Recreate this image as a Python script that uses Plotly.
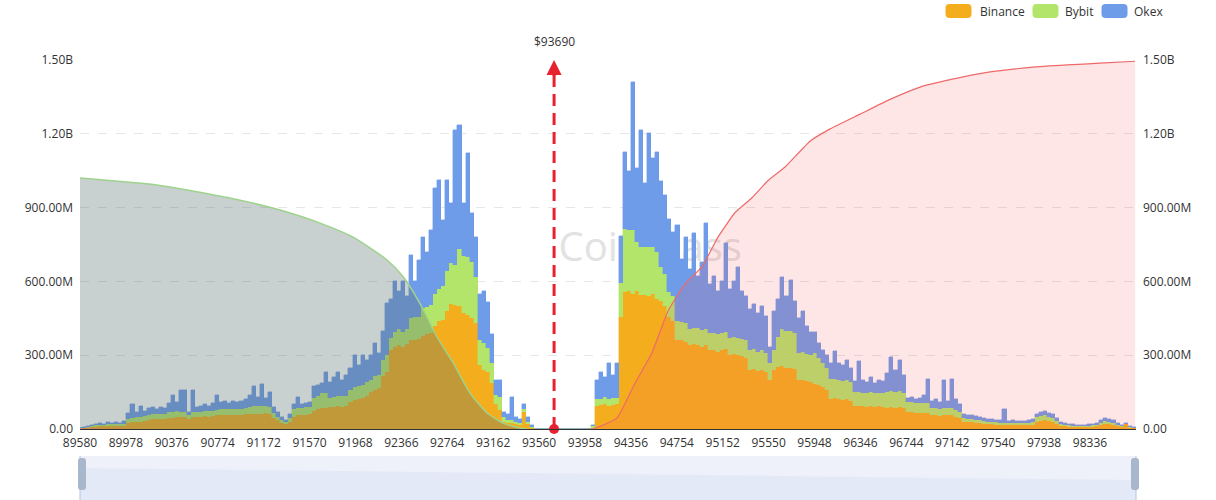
import plotly.graph_objects as go

# ---------------- data (values in millions USD) ----------------
PRICE_START = 89580
PRICE_STEP = 35
CURRENT_PRICE = 93690

binance = [
    # left cluster
    2, 3, 4, 8, 10, 11, 12, 12, 13, 12, 14, 13,
    25, 28, 30, 30, 32,
    38, 40, 40, 42, 40,
    45, 45, 48,
    50, 48, 40, 50,
    50, 48, 52, 50, 52, 55,
    55, 55, 58, 55, 56, 58, 60,
    60, 62, 60, 62, 65, 60,
    45, 35, 25, 20, 28,
    50, 55, 55, 58, 60,
    75, 80, 85, 85,
    88, 90, 92, 90, 95,
    110, 118, 120, 125, 135,
    150, 160, 165,
    215, 230,
    320, 335, 340, 335, 345,
    360, 362, 365,
    380, 386, 390,
    420, 440, 445, 480, 510, 505, 500, 470, 465, 450,
    431, 260, 240, 230, 187, 100, 77, 30, 24, 24, 20, 15, 70, 20, 6,
    # gap
    0, 0, 0, 0, 0, 0, 0, 0, 0, 0, 0, 0, 0, 0,
    # right cluster
    2,
    95, 98, 100, 95, 98, 100,
    455,
    557, 560, 550,
    560,
    545,
    545, 540, 550, 530,
    520, 500,
    455, 440,
    362, 360, 355,
    341, 345, 340, 335, 340,
    321, 320, 315, 320, 325,
    300, 305, 300, 295, 290,
    240, 245, 235, 240, 230, 200, 240,
    252, 255, 250, 250, 245,
    200, 200, 195, 190,
    183, 180, 170, 160,
    122, 125, 120, 118, 120, 115,
    94, 95, 92, 90, 95, 90, 92, 90,
    85, 88, 85, 88, 85,
    69, 68, 66, 66, 65, 66,
    55, 55, 52, 55, 55, 55, 50, 45,
    30, 28, 27, 25, 24, 22, 20, 19, 18, 17, 17,
    15, 16, 15, 15, 15, 16, 18,
    30, 33, 35, 32, 30, 22,
    13, 11, 10, 9,
    7, 7, 8, 9, 10, 11,
    16, 20, 19, 16, 12,
    7, 20, 6, 3,
]

bybit = [
    1, 2, 3, 4, 5, 6, 6, 7, 6, 7, 6, 7,
    15, 18, 20, 20, 20,
    20, 20, 22, 20, 22,
    25, 25, 25,
    20, 20, 18, 20,
    20, 22, 20, 22, 20, 22,
    25, 25, 25, 25, 25, 25, 25,
    30, 30, 32, 30, 30, 30,
    20, 15, 12, 10, 15,
    30, 30, 30, 32, 30,
    50, 55, 60, 60,
    40, 40, 42, 45, 40,
    50, 52, 55, 55, 55,
    50, 55, 55,
    64, 70,
    50, 60, 65, 60, 60,
    93, 95, 90,
    110, 110, 115,
    130, 130, 135, 162, 165, 160, 230, 233, 235, 230,
    187, 100, 110, 100, 80, 40, 53, 20, 12, 12, 10, 8, 10, 10, 4,
    0, 0, 0, 0, 0, 0, 0, 0, 0, 0, 0, 0, 0, 0,
    12,
    25, 24, 30, 25, 28, 25,
    138,
    256, 250, 260,
    200,
    195,
    195, 200, 190, 190,
    140, 130,
    100, 100,
    77, 77, 75,
    66, 66, 70, 66, 66,
    70, 70, 70, 70, 70,
    70, 70, 70, 70, 70,
    80, 80, 80, 80, 80, 70, 80,
    120, 150, 150, 150, 145,
    110, 115, 110, 110,
    126, 110, 100, 90,
    81, 80, 80, 78, 80, 75,
    56, 56, 55, 55, 55, 55, 55, 55,
    65, 65, 65, 65, 60,
    40, 40, 38, 38, 40, 40,
    30, 30, 28, 30, 30, 30, 28, 25,
    15, 14, 13, 13, 12, 11, 10, 10, 9, 8, 8,
    8, 8, 8, 8, 8, 9, 10,
    18, 20, 20, 18, 16, 12,
    7, 6, 5, 5,
    4, 4, 4, 5, 5, 6,
    9, 12, 11, 9, 6,
    4, 2, 3, 2,
]

okex = [
    2, 3, 5, 6, 7, 7, 4, 9, 6, 11, 6, 12,
    25, 54, 20, 45, 23,
    27, 30, 18, 26, 23,
    35, 70, 37,
    90, 90, 12, 90,
    20, 25, 28, 23, 33, 63,
    30, 35, 22, 32, 27, 32, 35,
    50, 83, 38, 91, 31, 60,
    25, 20, 13, 5, 17,
    20, 45, 15, 15, 20,
    50, 45, 40, 87,
    62, 80, 98, 65, 85,
    90, 130, 85, 120, 90,
    100, 135, 90,
    121, 212,
    160, 205, 155, 205, 135,
    254, 143, 232,
    290, 224, 304,
    430, 442, 270, 370, 245, 550, 506, 217, 422, 200,
    162, 190, 210, 186, 119, 60, 70, 20, 24, 94, 20, 17, 20, 20, 5,
    0, 0, 0, 0, 0, 0, 0, 0, 0, 0, 0, 0, 0, 0,
    2,
    80, 108, 80, 148, 94, 143,
    190,
    313, 240, 600,
    300,
    475,
    260, 463, 360, 406,
    350, 320,
    299, 260,
    390, 254, 350,
    243, 386, 210, 279, 431,
    199, 230, 175, 210, 361,
    199, 225, 289, 195, 180,
    168, 185, 155, 180, 150, 63, 160,
    156, 213, 140, 206, 130,
    140, 165, 115, 94,
    85, 60, 50, 50,
    65, 112, 70, 64, 80, 60,
    45, 125, 53, 45, 60, 40, 53, 50,
    78, 140, 90, 127, 75,
    17, 22, 16, 21, 35, 97,
    29, 35, 30, 115, 30, 120, 42, 30,
    16, 16, 15, 14, 12, 12, 12, 11, 10, 10, 56,
    10, 11, 9, 11, 10, 11, 12,
    12, 16, 17, 15, 14, 11,
    10, 7, 7, 6,
    5, 6, 6, 6, 7, 7,
    10, 13, 12, 10, 7,
    5, 3, 5, 3,
]

# cumulative liquidation (billions USD)
short_cum_prices = [89580, 90274, 90967, 91314, 91661, 91947, 92242, 92380, 92528,
                    92675, 92814, 92961, 93109, 93247, 93395, 93456]
short_cum_values = [1.02, 0.99, 0.93, 0.89, 0.837, 0.78, 0.687, 0.62, 0.51,
                    0.374, 0.27, 0.146, 0.065, 0.024, 0.004, 0.0]

long_cum_prices = [89580, 94019, 94236, 94392, 94539, 94678, 94825, 94973, 95111,
                   95259, 95406, 95545, 95692, 95909, 96083, 96343, 96603, 96863,
                   97123, 97444, 97817, 98137, 98423, 98727]
long_cum_values = [0.0, 0.0, 0.045, 0.187, 0.31, 0.48, 0.59, 0.66, 0.78,
                   0.88, 0.94, 1.01, 1.065, 1.17, 1.22, 1.28, 1.34, 1.39,
                   1.42, 1.45, 1.47, 1.48, 1.487, 1.495]

x_tick_labels = [89580, 89978, 90376, 90774, 91172, 91570, 91968, 92366, 92764,
                 93162, 93560, 93958, 94356, 94754, 95152, 95550, 95948, 96346,
                 96744, 97142, 97540, 97938, 98336]
y_tick_vals = [0, 3e8, 6e8, 9e8, 1.2e9, 1.5e9]
y_tick_text = ["0.00", "300.00M", "600.00M", "900.00M", "1.20B", "1.50B"]

series_names = ["Binance", "Bybit", "Okex"]

# ---------------- figure ----------------
prices = [PRICE_START + PRICE_STEP * i for i in range(len(binance))]
M = 1e6
B = 1e9

C_BIN = "#F4AD1D"
C_BYB = "#B3E56B"
C_OKX = "#6F9CE8"
colors = [C_BIN, C_BYB, C_OKX]
RED = "#E8212E"
FONT = "Open Sans"
TXT = "#333333"

fig = go.Figure()
for name, vals, col in zip(series_names, [binance, bybit, okex], colors):
    fig.add_trace(go.Bar(
        x=prices, y=[v * M for v in vals], name=name,
        marker=dict(color=col, line=dict(width=0.4, color=col)),
        width=PRICE_STEP, yaxis="y", showlegend=False,
    ))

fig.add_trace(go.Scatter(
    x=short_cum_prices, y=[v * B for v in short_cum_values], yaxis="y2",
    mode="lines", line=dict(color="#9ED38C", width=1.5, shape="spline", smoothing=0.6),
    fill="tozeroy", fillcolor="rgba(90,112,112,0.33)", showlegend=False, hoverinfo="skip",
))
fig.add_trace(go.Scatter(
    x=long_cum_prices, y=[v * B for v in long_cum_values], yaxis="y2",
    mode="lines", line=dict(color="#EE6A6A", width=1.2, shape="spline", smoothing=0.4),
    fill="tozeroy", fillcolor="rgba(250,80,90,0.15)", showlegend=False, hoverinfo="skip",
))
fig.add_trace(go.Scatter(
    x=[CURRENT_PRICE], y=[0], yaxis="y2", mode="markers",
    marker=dict(color=RED, size=10), cliponaxis=False, showlegend=False, hoverinfo="skip",
))

axis_font = dict(family=FONT, size=12, color=TXT)
fig.update_layout(
    width=1216, height=500,
    margin=dict(l=80, r=80, t=60, b=71, autoexpand=False),
    paper_bgcolor="white", plot_bgcolor="white",
    barmode="stack", bargap=0,
    font=dict(family=FONT, size=12, color=TXT),
    showlegend=False,
    xaxis=dict(range=[PRICE_START, 98735], tickmode="array", tickvals=x_tick_labels,
               ticktext=[str(v) for v in x_tick_labels], showgrid=False, zeroline=False,
               showline=True, linecolor=TXT, linewidth=1, ticks="",
               tickfont=axis_font, ticklabelstandoff=3),
    yaxis=dict(range=[0, 1.5e9], tickmode="array", tickvals=y_tick_vals, ticktext=y_tick_text,
               showgrid=True, gridcolor="#E6E6E6", griddash="dash", gridwidth=1,
               zeroline=False, showline=False, ticks="", tickfont=axis_font,
               ticklabelstandoff=6),
    yaxis2=dict(range=[0, 1.5e9], overlaying="y", side="right", tickmode="array",
                tickvals=y_tick_vals, ticktext=y_tick_text, showgrid=False,
                zeroline=False, showline=False, ticks="", tickfont=axis_font,
                ticklabelstandoff=6),
    hovermode=False,
)

PLOT_L, PLOT_W, PLOT_T, PLOT_H = 80, 1056, 60, 369


def px_x(px):
    return (px - PLOT_L) / PLOT_W


def px_y(py):
    return 1 - (py - PLOT_T) / PLOT_H


def rounded_rect(w, h, r):
    x0, x1, y0, y1 = -w / 2, w / 2, -h / 2, h / 2
    return (f"M {x0 + r},{y0} L {x1 - r},{y0} Q {x1},{y0} {x1},{y0 + r} "
            f"L {x1},{y1 - r} Q {x1},{y1} {x1 - r},{y1} L {x0 + r},{y1} "
            f"Q {x0},{y1} {x0},{y1 - r} L {x0},{y0 + r} Q {x0},{y0} {x0 + r},{y0} Z")


shapes = [
    # watermark behind the data
    dict(type="rect", xref="paper", yref="paper", x0=0.40, x1=0.68, y0=0.42, y1=0.56,
         line=dict(width=0), fillcolor="rgba(0,0,0,0)", layer="below",
         label=dict(text="CoinGlass", font=dict(size=40, color="#E2E2E2", family=FONT))),
    # current price dashed line
    dict(type="line", xref="x", yref="y", x0=CURRENT_PRICE, x1=CURRENT_PRICE, y0=0, y1=1.44e9,
         line=dict(color=RED, width=3, dash="12px,7px"), layer="above"),
    # data-zoom slider
    dict(type="rect", xref="paper", yref="paper", x0=0, x1=1, y0=px_y(456), y1=px_y(505),
         line=dict(width=0), fillcolor="#EEF1F9", layer="above"),
    dict(type="path", xref="paper", yref="paper",
         path=f"M 0,{px_y(468)} L 1,{px_y(480)} L 1,{px_y(505)} L 0,{px_y(505)} Z",
         line=dict(width=0), fillcolor="rgba(222,228,245,0.6)", layer="above"),
    dict(type="line", xref="paper", yref="paper", x0=0, x1=0, y0=px_y(456), y1=px_y(505),
         line=dict(color="#B9C4DA", width=1)),
    dict(type="line", xref="paper", yref="paper", x0=1, x1=1, y0=px_y(456), y1=px_y(505),
         line=dict(color="#B9C4DA", width=1)),
    dict(type="path", xref="paper", yref="paper", xsizemode="pixel", ysizemode="pixel",
         xanchor=px_x(82), yanchor=px_y(474), path=rounded_rect(8, 32, 3),
         line=dict(width=0), fillcolor="#A8B7CC"),
    dict(type="path", xref="paper", yref="paper", xsizemode="pixel", ysizemode="pixel",
         xanchor=px_x(1135), yanchor=px_y(474), path=rounded_rect(8, 32, 3),
         line=dict(width=0), fillcolor="#A8B7CC"),
]

# legend (top right): rounded swatches + labels
legend_icon_x = [958.5, 1045.5, 1114.5]
legend_text_x = [978, 1063, 1132]
for name, col, ix, tx in zip(series_names, colors, legend_icon_x, legend_text_x):
    shapes.append(dict(type="path", xref="paper", yref="paper", xsizemode="pixel",
                       ysizemode="pixel", xanchor=px_x(ix), yanchor=px_y(11),
                       path=rounded_rect(26, 14, 4), line=dict(width=0), fillcolor=col))
    fig.add_annotation(x=px_x(tx), y=px_y(11), xref="paper", yref="paper", text=name,
                       showarrow=False, xanchor="left", yanchor="middle",
                       font=dict(family=FONT, size=12, color=TXT))

fig.update_layout(shapes=shapes)

fig.add_annotation(x=CURRENT_PRICE, y=1.5e9, xref="x", yref="y", ax=CURRENT_PRICE, ay=1.43e9,
                   axref="x", ayref="y", showarrow=True, arrowhead=2, arrowsize=1.0,
                   arrowwidth=3, arrowcolor=RED, text="")
fig.add_annotation(x=CURRENT_PRICE, y=px_y(52), xref="x", yref="paper",
                   text="$" + str(CURRENT_PRICE), showarrow=False, yanchor="bottom",
                   font=dict(family=FONT, size=12, color=TXT))

fig.write_html("out.html")
